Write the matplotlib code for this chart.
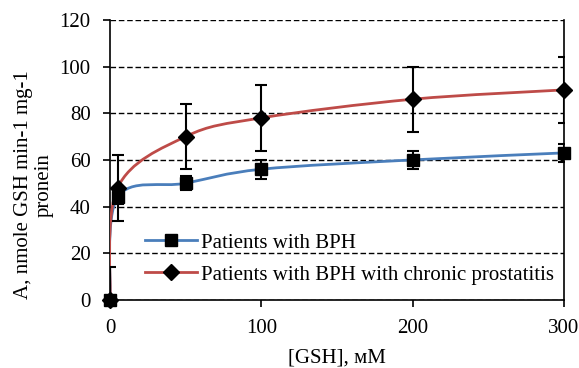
import matplotlib.pyplot as plt
import numpy as np
from matplotlib.path import Path
from matplotlib.patches import PathPatch
from matplotlib.lines import Line2D

# данные
gsh = [0, 5, 50, 100, 200, 300]
bph = [0, 44, 50, 56, 60, 63]
bph_err = [0, 3, 3, 4, 4, 4]
prost = [0, 48, 70, 78, 86, 90]
prost_err = [14, 14, 14, 14, 14, 14]

label_bph = "Patients with BPH"
label_prost = "Patients with BPH with chronic prostatitis"
c_blue = "#4a7ebb"
c_red = "#be4b48"

plt.rcParams['font.family'] = ['Liberation Serif', 'DejaVu Serif']
plt.rcParams['font.size'] = 15


def smooth_path(x, y):
    # сглаженная линия как в Excel (кривые Безье)
    pts = np.column_stack([x, y]).astype(float)
    n = len(pts)
    verts = [pts[0]]
    codes = [Path.MOVETO]
    for i in range(n - 1):
        p0 = pts[i - 1] if i > 0 else pts[i]
        p1 = pts[i]
        p2 = pts[i + 1]
        p3 = pts[i + 2] if i + 2 < n else pts[i + 1]
        c1 = p1 + (p2 - p0) / 6
        c2 = p2 - (p3 - p1) / 6
        verts += [c1, c2, p2]
        codes += [Path.CURVE4] * 3
    return Path(verts, codes)


fig = plt.figure(figsize=(5.79, 3.68), dpi=100)
ax = fig.add_axes([0.19, 0.185, 0.784, 0.761])

for yv, col in [(bph, c_blue), (prost, c_red)]:
    ax.add_patch(PathPatch(smooth_path(gsh, yv), facecolor='none',
                           edgecolor=col, lw=2, zorder=3))

for yv, err, mk, ms in [(bph, bph_err, 's', 8.5), (prost, prost_err, 'D', 8)]:
    line, caps, bars = ax.errorbar(gsh, yv, yerr=err, fmt=mk, color='black',
                                   ms=ms, ecolor='black', elinewidth=1.5,
                                   capsize=4.5, capthick=1.5, zorder=4)
    line.set_clip_on(False)

ax.set_xlim(0, 300)
ax.set_ylim(0, 120)
ax.set_xticks([0, 100, 200, 300])
ax.set_yticks(range(0, 121, 20))
ax.yaxis.grid(True, linestyle=(0, (4, 2)), color='black', lw=1)
ax.set_axisbelow(True)
ax.spines['top'].set_visible(False)
for s in ['left', 'right', 'bottom']:
    ax.spines[s].set_linewidth(1.2)
ax.tick_params(direction='out', length=5, width=1.2)
ax.tick_params(axis='x', pad=9)
ax.tick_params(axis='y', pad=9)

ax.set_xlabel("[GSH], мМ", labelpad=7)
ax.set_ylabel("A, nmole GSH min-1 mg-1\npronein", linespacing=1.1)
ax.yaxis.set_label_coords(-0.125, 0.41)

handles = [Line2D([], [], color=c_blue, lw=2, marker='s', ms=8.5,
                  markerfacecolor='black', markeredgecolor='black'),
           Line2D([], [], color=c_red, lw=2, marker='D', ms=8,
                  markerfacecolor='black', markeredgecolor='black')]
ax.legend(handles, [label_bph, label_prost], loc='lower left',
          bbox_to_anchor=(0.049, 0.01), frameon=False, handlelength=2.5,
          handletextpad=0.2, labelspacing=0.6, borderaxespad=0.2)

fig.savefig("out.png", dpi=100)
